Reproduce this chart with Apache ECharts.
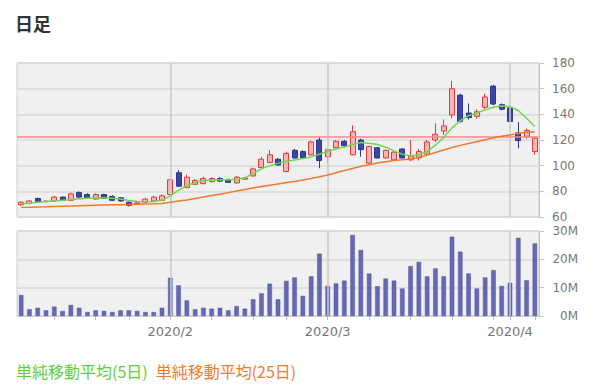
<!DOCTYPE html>
<html>
<head>
<meta charset="utf-8">
<script src="https://cdn.jsdelivr.net/npm/echarts@6/dist/echarts.min.js"></script>
<style>
html,body{margin:0;padding:0;background:#fff;}
#chart{width:600px;height:392px;}
</style>
</head>
<body>
<div id="chart"></div>
<script>
// ---- data ----
const categories = Array.from({length: 63}, (_, i) => String(i + 1));
const opens  = [69.5,70.5,74.5,72,72.5,75.5,73,79,77.5,74,77.5,76,75,71.5,70.5,71.5,72.5,73,
                77.5,94.5,83,85.5,86,87.5,90,89,86.5,89.5,92,98.5,102.5,105,95.5,112,111,108.5,
                120,107,114,119,108.5,120,102,114,106,104.5,113,104.5,106,109,120,127,139.5,155,
                141,138.5,145.5,162,147.5,145,125.5,122.5,111];
const closes = [71.5,72.5,72,72.4,75.5,73,78,75.5,75,77.5,74.5,73,72.5,69,71,74,75.5,76.5,
                89,84,91,88.5,90,90,88,87,91,90.3,97.5,105,108.5,100.5,109.5,106,106,118.5,
                104,112.5,119,115.5,126.5,112.5,115,106,112,110.5,106,107.5,111,118.5,124.5,131,160,134.5,
                137.5,142,153.5,148,144,134.5,119.5,127.5,121.5];
const lows   = [68.5,70,71.5,71.5,72,72.5,72.5,75,74.5,73.5,74,72.5,72,68.2,70,71,72,72.5,
                77,83.5,82.5,85,85.5,87,87.5,86.5,86,89,91.5,98,102,100,95,105.5,105.5,108,
                98,102,113,115,108,107,101.5,105.5,105.5,104,105.5,103.5,104,107.5,118.5,124,137,133.5,
                136,136.5,144,147,143,134,113.5,121,108.5];
const highs  = [72,73,75,73,76.5,76,79,80,78.5,78.5,78,77,75.5,72,71.5,74.7,76.5,77.5,
                90,96.5,93,89.5,91.5,91,91,90,92,91,98.5,107,112,106,111,113,112,119.5,
                122.5,113.5,120,120,131.5,121,115.5,114.5,112.5,111.5,113.5,120,113,120,133,136,166,156,
                148.5,144,156,163,148.5,146,134,129,122.5];
const ma5    = [70.3,70.8,71.5,72,72.5,73,73.6,74.2,74.6,74.8,75,74.6,74,72.8,72,71.8,72,73,
                76.5,81,84.5,86.8,88.5,89,89,89,89.5,90.5,94,97.5,100,101.8,103.5,104.5,105.5,107,
                109,111,113,114.5,116.5,118,117.5,116.5,114.4,111.5,109,107.5,108.5,111,116,122,129.5,135,
                139,141,143.5,145.5,146.5,146,143,137,130.5];
const ma25   = [67.5,67.6,67.8,67.9,68.1,68.3,68.5,68.7,68.9,69.1,69.3,69.5,69.6,69.7,69.9,70.1,70.3,70.6,
                71.5,72.5,73.3,74.5,75.6,76.7,77.8,79,80.2,81.4,82.6,83.8,84.8,85.8,86.8,87.7,88.8,90,
                91.3,92.8,94.5,96.2,97.8,99.5,100.8,102,103,104,104.6,105.2,106.6,108.2,110.2,112.2,114.2,115.8,
                117.2,118.6,120.2,121.8,123,124,125,126,126.3];
const volumesM = [7.4,2.4,2.9,2.0,3.3,1.8,3.9,2.9,1.4,2.0,1.8,1.4,2.0,2.0,1.8,1.4,1.4,2.9,
                13.5,10.8,5.5,2.4,2.9,2.6,2.9,2.0,3.5,2.6,5.9,8.0,11.4,5.9,12.4,13.6,7.1,14.0,
                22.0,10.6,11.5,12.5,28.6,23.3,15.0,10.5,13.2,12.5,9.7,17.6,19.1,14.0,16.8,14.0,28.0,22.7,
                15.0,9.7,13.6,16.2,10.6,11.7,27.6,12.6,25.6];
const monthIdx = [18, 37, 59];
const monthLabels = ['2020/2', '2020/3', '2020/4'];
const weekTickIdx = [4, 9, 13, 18, 23, 28, 32, 37, 42, 47, 52, 57, 59, 62];
const refLine = 122.5;
const priceTicks = {min: 60, max: 180, interval: 20};
const volTicks = {min: 0, max: 30, interval: 10};
const titleText = '日足';
const legendNames = ['単純移動平均(5日)', '単純移動平均(25日)'];

// ---- build ----
const candleData = opens.map((o, i) => [o, closes[i], lows[i], highs[i]]);
const volumes = volumesM.map(v => v * 1e6);

const gridStyle = {show: true, backgroundColor: '#f0f0f0', borderColor: '#cfcfcf', borderWidth: 1};
const axisFont = 'DejaVu Sans';
const gridLineColor = '#dadada';
const monthLineColor = '#cacaca';

const chart = echarts.init(document.getElementById('chart'), null, {renderer: 'svg'});
chart.setOption({
  animation: false,
  title: {
    text: titleText, left: 10, top: 9,
    textStyle: {fontSize: 18, fontWeight: 'bold', color: '#333', fontFamily: 'Noto Sans CJK JP'}
  },
  legend: {
    left: 6, top: 358, icon: 'none', itemWidth: 0, itemHeight: 14, itemGap: 3,
    selectedMode: false,
    textStyle: {fontSize: 16, fontFamily: 'Noto Sans CJK JP'},
    data: [
      {name: legendNames[0], textStyle: {color: '#5fcf3a'}},
      {name: legendNames[1], textStyle: {color: '#ef7c2c'}}
    ]
  },
  grid: [
    Object.assign({left: 17, right: 61, top: 63, height: 154}, gridStyle),
    Object.assign({left: 17, right: 61, top: 231, height: 85}, gridStyle)
  ],
  xAxis: [
    {type: 'category', gridIndex: 0, data: categories, boundaryGap: true,
     axisLine: {show: false}, axisTick: {show: false}, axisLabel: {show: false}, splitLine: {show: false}},
    {type: 'category', gridIndex: 1, data: categories, boundaryGap: true,
     axisLine: {show: true, lineStyle: {color: '#cfcfcf'}},
     axisTick: {show: true, alignWithLabel: true, length: 4, lineStyle: {color: '#bdbdbd'},
                interval: (i) => weekTickIdx.includes(i)},
     axisLabel: {interval: (i) => monthIdx.includes(i),
                 formatter: (v, i) => { const k = monthIdx.indexOf(i); return k >= 0 ? monthLabels[k] : ''; },
                 color: '#777', fontSize: 13, fontFamily: axisFont, margin: 9},
     splitLine: {show: false}}
  ],
  yAxis: [
    {type: 'value', gridIndex: 0, position: 'right', min: priceTicks.min, max: priceTicks.max, interval: priceTicks.interval,
     axisLine: {show: true, lineStyle: {color: '#c4c4c4'}},
     axisTick: {show: true, length: 5, lineStyle: {color: '#c4c4c4'}},
     axisLabel: {color: '#777', fontSize: 12, fontFamily: axisFont, margin: 13},
     splitLine: {show: true, lineStyle: {color: gridLineColor, width: 1.5}}},
    {type: 'value', gridIndex: 1, position: 'right', min: volTicks.min * 1e6, max: volTicks.max * 1e6, interval: volTicks.interval * 1e6,
     axisLine: {show: true, lineStyle: {color: '#c4c4c4'}},
     axisTick: {show: true, length: 5, lineStyle: {color: '#c4c4c4'}},
     axisLabel: {color: '#777', fontSize: 12, fontFamily: axisFont, margin: 39, align: 'right',
                 formatter: v => (v / 1e6) + 'M'},
     splitLine: {show: true, lineStyle: {color: gridLineColor, width: 1.5}}}
  ],
  series: [
    {type: 'line', name: 'grid-main', xAxisIndex: 0, yAxisIndex: 0, data: [], z: 1, silent: true,
     markLine: {silent: true, symbol: 'none', label: {show: false},
                lineStyle: {color: monthLineColor, width: 1.5, type: 'solid'},
                data: monthIdx.map(i => ({xAxis: i}))}},
    {type: 'line', name: 'grid-vol', xAxisIndex: 1, yAxisIndex: 1, data: [], z: 1, silent: true,
     markLine: {silent: true, symbol: 'none', label: {show: false},
                lineStyle: {color: monthLineColor, width: 1.5, type: 'solid'},
                data: monthIdx.map(i => ({xAxis: i}))}},
    {type: 'line', name: 'ref', xAxisIndex: 0, yAxisIndex: 0, data: [], z: 3, silent: true,
     markLine: {silent: true, symbol: 'none', label: {show: false},
                lineStyle: {color: '#f08a8a', width: 1.5, type: 'solid'},
                data: [{yAxis: refLine}]}},
    {type: 'candlestick', name: 'price', xAxisIndex: 0, yAxisIndex: 0, data: candleData, barWidth: 5.5, z: 4,
     itemStyle: {color: '#f8b4b4', borderColor: '#e23c3c', color0: '#3b47a6', borderColor0: '#2e3893', borderWidth: 1}},
    {type: 'line', name: legendNames[0], xAxisIndex: 0, yAxisIndex: 0, data: ma5, symbol: 'none', z: 5,
     itemStyle: {color: '#5fcf3a'}, lineStyle: {color: '#6fd84a', width: 1.5}},
    {type: 'line', name: legendNames[1], xAxisIndex: 0, yAxisIndex: 0, data: ma25, symbol: 'none', z: 5,
     itemStyle: {color: '#ef7c2c'}, lineStyle: {color: '#ee7a2d', width: 1.5}},
    {type: 'bar', name: 'volume', xAxisIndex: 1, yAxisIndex: 1, data: volumes, barWidth: 4.5, z: 3,
     itemStyle: {color: '#6569b4', borderColor: '#4f539c', borderWidth: 0.5}}
  ]
});
</script>
</body>
</html>
